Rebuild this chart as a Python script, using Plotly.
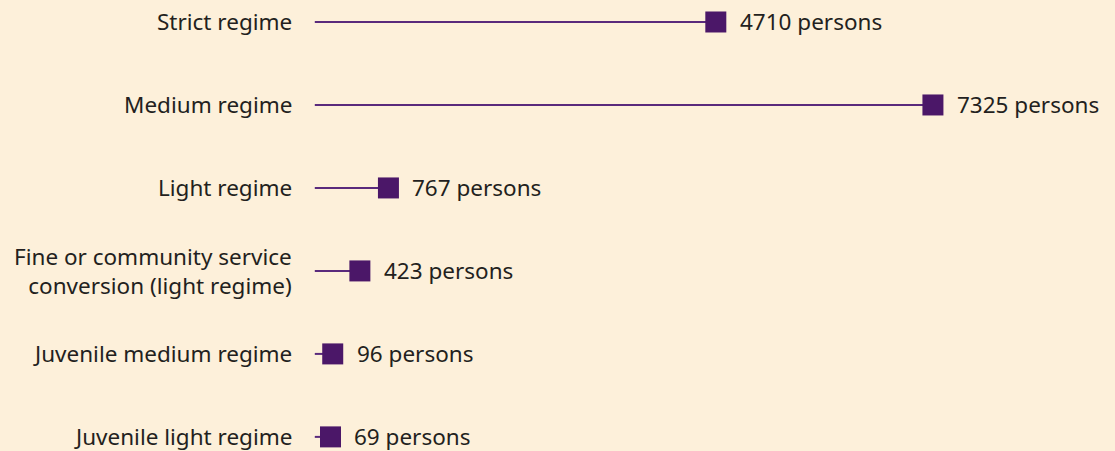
import plotly.graph_objects as go

categories = [
    "Strict regime",
    "Medium regime",
    "Light regime",
    "Fine or community service<br>conversion (light regime)",
    "Juvenile medium regime",
    "Juvenile light regime",
]
persons = [4710, 7325, 767, 423, 96, 69]
value_labels = [f"{v} persons" for v in persons]

rows = list(range(len(categories)))
purple = "#4b1768"
text_col = "#231f20"
line_start = -120  # stems begin a little left of zero

fig = go.Figure()

# stems
line_x, line_y = [], []
for r, v in zip(rows, persons):
    line_x += [line_start, v, None]
    line_y += [r, r, None]
fig.add_trace(go.Scatter(
    x=line_x, y=line_y, mode="lines",
    line=dict(color="#5a2a7c", width=2),
    hoverinfo="skip", showlegend=False,
))

# squares
fig.add_trace(go.Scatter(
    x=persons, y=rows, mode="markers",
    marker=dict(symbol="square", size=21, color=purple),
    cliponaxis=False, showlegend=False,
))

# value labels right of the squares
for r, v, lab in zip(rows, persons, value_labels):
    fig.add_annotation(
        x=v, y=r, text=lab, showarrow=False,
        xanchor="left", xshift=22,
        font=dict(size=22.5, color=text_col, family="Noto Sans"),
    )

# category labels on the left
for r, cat in zip(rows, categories):
    fig.add_annotation(
        xref="paper", x=0, y=r, text=cat, showarrow=False,
        xanchor="right", align="right", xshift=-10,
        font=dict(size=22.5, color=text_col, family="Noto Sans"),
    )

fig.update_layout(
    width=1115, height=451,
    margin=dict(l=304, r=43, t=0, b=0),
    paper_bgcolor="#fdf0da",
    plot_bgcolor="#fdf0da",
    font=dict(family="Noto Sans", size=22.5, color=text_col),
)
fig.update_xaxes(range=[-250, 9000], visible=False)
fig.update_yaxes(range=[5.17, -0.265], visible=False)

fig.write_html("out.html", config={"displayModeBar": False},
               post_script="document.body.style.margin='0';")
